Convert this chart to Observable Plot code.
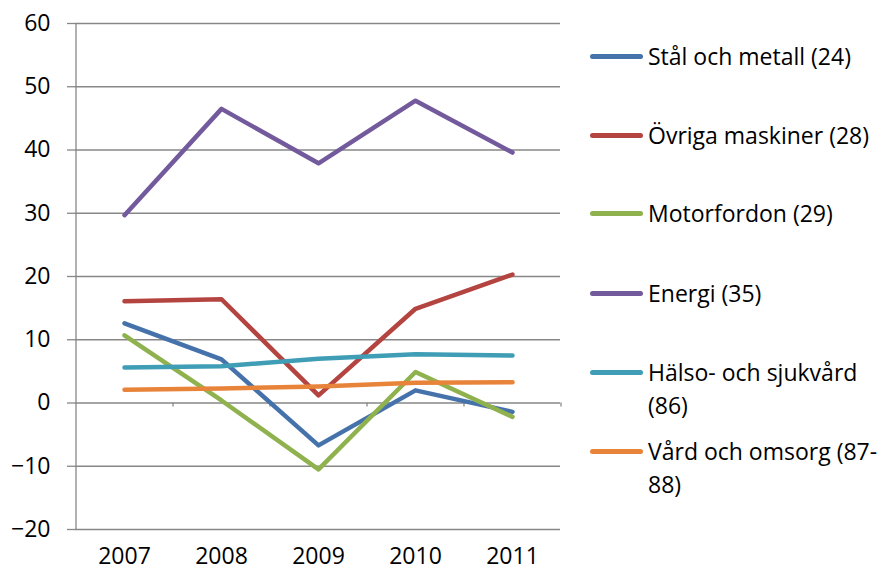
<!DOCTYPE html>
<html><head><meta charset="utf-8">
<script src="https://cdn.jsdelivr.net/npm/d3@7"></script>
<script src="https://cdn.jsdelivr.net/npm/@observablehq/plot@0.6"></script>
<style>
body{margin:0;background:#fff;}
#wrap{position:relative;width:885px;height:573px;font-family:"Open Sans",sans-serif;}
#legend{position:absolute;left:590px;top:0;}
.item{position:absolute;left:0;width:295px;font-size:23px;line-height:33px;color:#000;}
.sw{position:absolute;left:0;width:53px;height:5px;border-radius:3px;}
.lab{position:absolute;left:58px;white-space:nowrap;}
</style></head>
<body><div id="wrap"></div>
<script>
const years = ["2007","2008","2009","2010","2011"];
const seriesNames = ["Stål och metall (24)","Övriga maskiner (28)","Motorfordon (29)","Energi (35)","Hälso- och sjukvård (86)","Vård och omsorg (87-88)"];
const legendLines = [["Stål och metall (24)"],["Övriga maskiner (28)"],["Motorfordon (29)"],["Energi (35)"],["Hälso- och sjukvård","(86)"],["Vård och omsorg (87-","88)"]];
const colors = ["#4572AA","#B44440","#8FB24E","#735A9C","#3F9DB6","#E8843A"];
const stal = [12.6, 6.9, -6.7, 2.0, -1.4];
const ovriga = [16.1, 16.4, 1.2, 14.9, 20.3];
const motor = [10.7, 0.4, -10.5, 4.9, -2.2];
const energi = [29.7, 46.5, 37.9, 47.8, 39.6];
const halso = [5.6, 5.8, 7.0, 7.7, 7.5];
const vard = [2.1, 2.3, 2.6, 3.2, 3.3];
const yTicks = [-20,-10,0,10,20,30,40,50,60];

const allSeries = [stal, ovriga, motor, energi, halso, vard];
const data = [];
allSeries.forEach((vals, i) => vals.forEach((v, j) => data.push({series: seriesNames[i], year: years[j], value: v})));

const halfStep = 48.5;
const plot = Plot.plot({
  width: 885, height: 573,
  marginLeft: 75, marginRight: 325, marginTop: 23, marginBottom: 44,
  style: {fontFamily: '"Open Sans", sans-serif', fontSize: "23px", color: "#000", background: "#fff"},
  x: {type: "point", domain: years, padding: 0.5, label: null},
  y: {domain: [-20, 60], label: null},
  color: {domain: seriesNames, range: colors},
  marks: [
    Plot.ruleY(yTicks, {stroke: "#878787", strokeWidth: 1.3}),
    Plot.ruleX([years[0]], {dx: -halfStep, y1: -20, y2: 60, stroke: "#878787", strokeWidth: 1.3}),
    Plot.ruleX(years, {dx: halfStep, y1: 0, y2: -0.65, stroke: "#878787", strokeWidth: 1.3}),
    Plot.axisY(yTicks, {tickSize: 8, tickPadding: 17, fontSize: 23, stroke: "#878787", strokeWidth: 1.3, strokeOpacity: 1, fill: "#000"}),
    Plot.axisX(years, {tickSize: 0, tickPadding: 18, fontSize: 23, fill: "#000"}),
    Plot.line(data, {x: "year", y: "value", z: "series", stroke: "series", strokeWidth: 4.5, strokeLinecap: "round", strokeLinejoin: "round"})
  ]
});
document.getElementById("wrap").appendChild(plot);

const legend = document.createElement("div");
legend.id = "legend";
const rowY = [56, 135, 213, 293, 372, 451];
legendLines.forEach((lines, i) => {
  const it = document.createElement("div");
  it.className = "item";
  it.style.top = (rowY[i] - 16.5) + "px";
  const sw = document.createElement("div");
  sw.className = "sw";
  sw.style.background = colors[i];
  sw.style.top = "14px";
  it.appendChild(sw);
  const lab = document.createElement("div");
  lab.className = "lab";
  lab.innerHTML = lines.join("<br>");
  it.appendChild(lab);
  legend.appendChild(it);
});
document.getElementById("wrap").appendChild(legend);
</script></body></html>
